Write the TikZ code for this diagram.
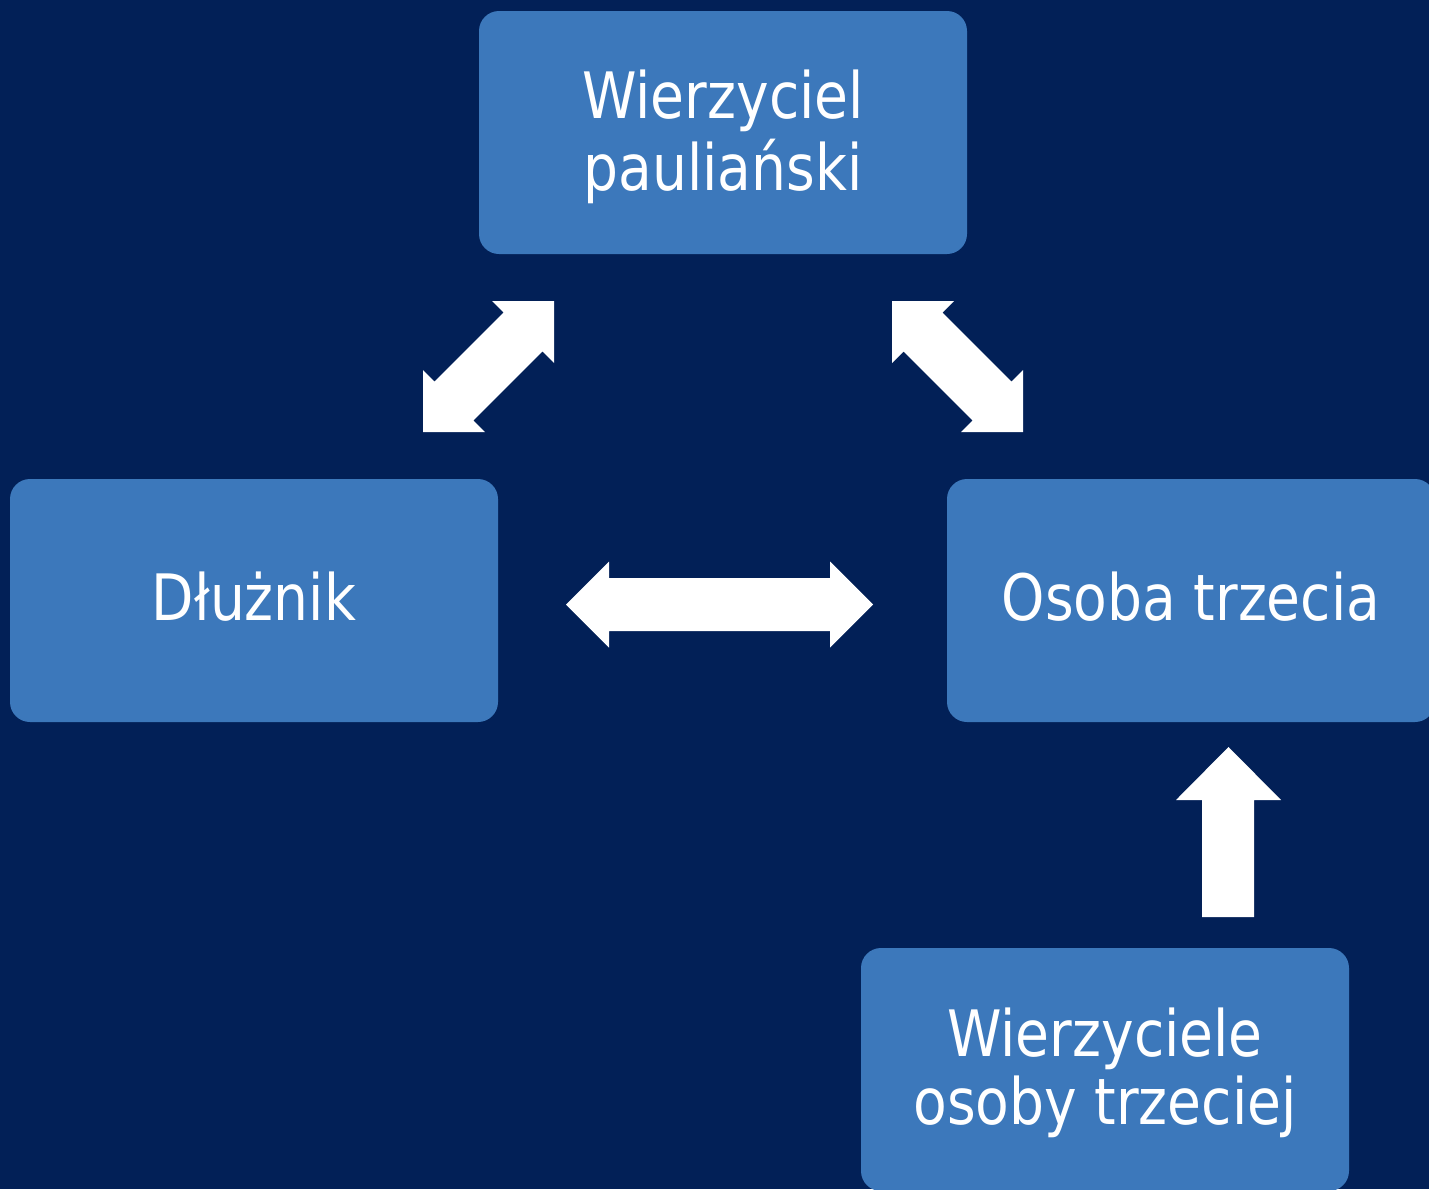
\documentclass[tikz,border=0pt]{standalone}
\usepackage{fontspec}
\setmainfont{DejaVu Sans}[FakeStretch=0.861]
\definecolor{bgnavy}{RGB}{2,32,87}
\definecolor{boxblue}{RGB}{60,120,187}
% #1 height, #2 depth declared for the text block, #3 baselineskip, #4 lines
\newcommand\boxlines[4]{\fontsize{64}{#3}\selectfont\raisebox{0pt}[#1][#2]{\begin{tabular}[t]{@{}c@{}}#4\end{tabular}}}
\begin{document}
\begin{tikzpicture}[x=1pt,y=-1pt,
  box/.style={draw=none, fill=boxblue, rounded corners=20pt,
    minimum width=488pt, minimum height=243pt, inner sep=0pt,
    text=white, align=center},
  blockarrow/.style={fill=white, draw=none}]
\useasboundingbox (0,0) rectangle (1429,1189);
\clip (0,0) rectangle (1429,1189);
\fill[bgnavy] (0,0) rectangle (1429,1189);

\node[box] (wp) at (723,132.5) {\boxlines{0pt}{29pt}{70}{Wierzyciel\\pauliański}};
\node[box] (dl) at (254,600.5) {\boxlines{39pt}{0pt}{70}{Dłużnik}};
\node[box] (ot) at (1191,600.5) {\boxlines{39pt}{0pt}{70}{Osoba trzecia}};
\node[box] (wo) at (1105,1069.5) {\boxlines{0pt}{27pt}{65}{Wierzyciele\\osoby trzeciej}};

% Dłużnik <-> Wierzyciel pauliański
\fill[blockarrow] (554,301) -- (554,363) -- (542.4,351.4) -- (473.4,420.4)
  -- (485,432) -- (423,432) -- (423,370) -- (434.6,381.6) -- (503.6,312.6)
  -- (492,301) -- cycle;

% Wierzyciel pauliański <-> Osoba trzecia
\fill[blockarrow] (892,301) -- (954,301) -- (942.4,312.6) -- (1011.4,381.6)
  -- (1023,370) -- (1023,432) -- (961,432) -- (972.6,420.4) -- (903.6,351.4)
  -- (892,363) -- cycle;

% Dłużnik <-> Osoba trzecia
\fill[blockarrow] (566,604.5) -- (609,561.5) -- (609,578) -- (830,578)
  -- (830,561.5) -- (873,604.5) -- (830,647.5) -- (830,631) -- (609,631)
  -- (609,647.5) -- cycle;

% Wierzyciele osoby trzeciej -> Osoba trzecia
\fill[blockarrow] (1228.5,747) -- (1281,800) -- (1254,800) -- (1254,917)
  -- (1202,917) -- (1202,800) -- (1176,800) -- cycle;
\end{tikzpicture}
\end{document}
